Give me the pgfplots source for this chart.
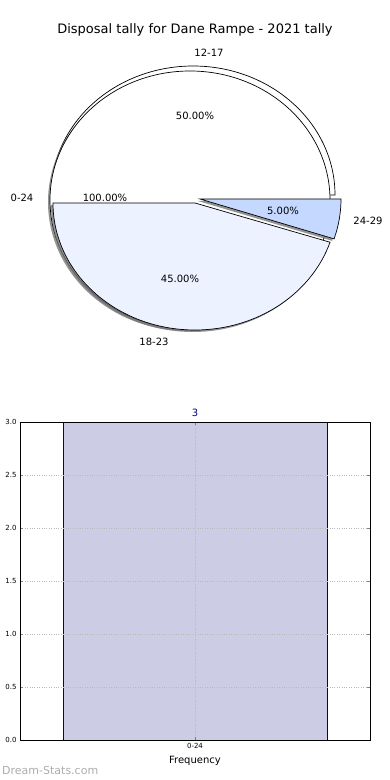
\documentclass[border=0pt]{standalone}
\usepackage{pgfplots}
\pgfplotsset{compat=1.18}
\usepackage{fontspec}
\setmainfont{DejaVu Sans}
\definecolor{wedgeA}{RGB}{236,242,255}
\definecolor{wedgeB}{RGB}{197,216,255}
\definecolor{barfill}{RGB}{204,204,229}
\definecolor{baredge}{RGB}{0,0,128}
\definecolor{shad}{RGB}{120,120,120}
\begin{document}
\begin{tikzpicture}
% ---------------- pie (pixel coordinates, y up) ----------------
\begin{axis}[at={(0pt,0pt)},anchor=south west,
  scale only axis,width=390pt,height=780pt,
  xmin=0,xmax=390,ymin=0,ymax=780,hide axis,clip=false]
% values: 0-24 = 100, 12-17 = 50, 18-23 = 45, 24-29 = 5 (percent)
\pgfmathsetmacro{\aA}{50*3.6}   % end of 12-17
\pgfmathsetmacro{\aB}{\aA+45*3.6} % end of 18-23
\pgfmathsetmacro{\aC}{\aB+5*3.6}  % end of 24-29
% 12-17 (exploded up)
\draw[black,line width=0.7pt,fill=white] (axis cs:193,585) -- ++(0:142pt and 129pt)
  arc[start angle=0,end angle=\aA,x radius=142pt,y radius=129pt] -- cycle;
% 0-24 full disk with shadow
\fill[shad,opacity=0.8] (axis cs:188,578) ellipse[x radius=140pt,y radius=129pt];
\draw[black,line width=0.7pt,fill=white] (axis cs:190,580) ellipse[x radius=140pt,y radius=129pt];
% 18-23 with shadow
\fill[shad,opacity=0.8] (axis cs:193,575) -- ++(180:142pt and 127pt)
  arc[start angle=180,end angle=\aB,x radius=142pt,y radius=127pt] -- cycle;
\draw[black,line width=0.7pt,fill=wedgeA] (axis cs:195,577) -- ++(180:142pt and 127pt)
  arc[start angle=180,end angle=\aB,x radius=142pt,y radius=127pt] -- cycle;
% 24-29 with shadow
\fill[shad,opacity=0.8] (axis cs:198,579) -- ++(\aB:141pt and 129pt)
  arc[start angle=\aB,end angle=\aC,x radius=141pt,y radius=129pt] -- cycle;
\draw[black,line width=0.7pt,fill=wedgeB] (axis cs:200,581) -- ++(\aB:141pt and 129pt)
  arc[start angle=\aB,end angle=\aC,x radius=141pt,y radius=129pt] -- cycle;
% labels
\node[font=\fontsize{13}{15}\selectfont] at (axis cs:195,750) {Disposal tally for Dane Rampe - 2021 tally};
\begin{scope}[every node/.style={font=\fontsize{10}{12}\selectfont}]
\node at (axis cs:209,727) {12-17};
\node at (axis cs:195,664) {50.00\%};
\node at (axis cs:22,582) {0-24};
\node at (axis cs:105,582) {100.00\%};
\node at (axis cs:283,569) {5.00\%};
\node at (axis cs:368,559) {24-29};
\node at (axis cs:180,501) {45.00\%};
\node at (axis cs:154,438) {18-23};
\end{scope}
\node[font=\fontsize{11}{13}\selectfont,text=gray!65,anchor=west,inner sep=0pt] at (axis cs:2,10) {Dream-Stats.com};
\end{axis}
% ---------------- bar chart ----------------
\begin{axis}[at={(20pt,40pt)},anchor=south west,
  scale only axis,width=350pt,height=318pt,
  xmin=-0.53,xmax=0.53,ymin=0,ymax=3,
  xtick={0},xticklabels={0-24},
  ytick={0,0.5,1,1.5,2,2.5,3},
  yticklabel style={/pgf/number format/.cd,fixed,fixed zerofill,precision=1},
  /pgf/number format/assume math mode=true,
  tick label style={font=\fontsize{7}{8}\selectfont},
  tick align=inside,
  major tick length=3pt,
  xtick pos=both,ytick pos=both,
  grid=major,
  axis on top,
  major grid style={dotted,gray!55,line width=0.8pt},
  axis line style={black,line width=0.8pt},
  xlabel={Frequency},
  xlabel style={font=\fontsize{10}{12}\selectfont,yshift=-1pt},
  clip=false,
  ]
\addplot[ybar,bar width=0.8,fill=barfill,draw=baredge,line width=0.7pt,
  nodes near coords,
  every node near coord/.append style={font=\fontsize{10}{12}\selectfont,text=baredge,yshift=2pt}]
  coordinates {(0,3)};
\end{axis}
\pgfresetboundingbox
\path (0,0) rectangle (390pt,780pt);
\end{tikzpicture}
\end{document}
